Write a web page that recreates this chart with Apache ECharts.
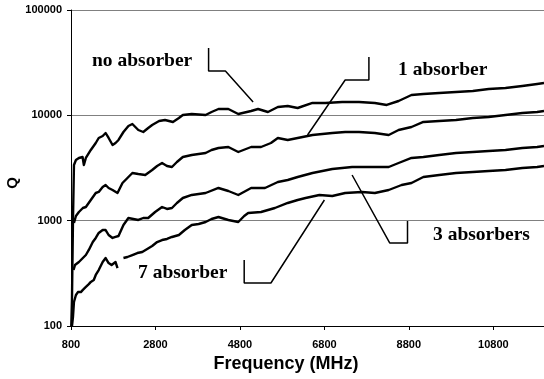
<!DOCTYPE html>
<html><head><meta charset="utf-8">
<script src="https://cdn.jsdelivr.net/npm/echarts@6/dist/echarts.min.js"></script>
<style>html,body{margin:0;padding:0;background:#fff}#c{width:544px;height:379px}</style>
</head><body><div id="c"></div>
<script>
const xTicks = [800, 2800, 4800, 6800, 8800, 10800];
const yTicks = [100, 1000, 10000, 100000];
const labels = ['no absorber', '1 absorber', '3 absorbers', '7 absorber'];

const noAbsorber = [[807,100],[823,177],[847,1015],[870,3377],[917,3767],[987,3936],[1074,4023],[1105,3377],[1152,3936],[1269,4688],[1386,5463],[1456,6094],[1550,6368],[1620,6797],[1691,6094],[1784,5229],[1855,5463],[1925,5833],[2042,6947],[2159,7922],[2253,8277],[2394,7257],[2511,6947],[2628,7582],[2722,8095],[2886,8838],[3026,9033],[3214,8648],[3355,9436],[3448,10070],[3659,10300],[3987,10070],[4128,10760],[4292,11490],[4526,11490],[4667,10760],[4761,10300],[5065,11000],[5229,11490],[5464,10760],[5698,12000],[5932,12270],[6167,11740],[6518,13100],[6823,13100],[7221,13390],[7620,13390],[7995,13100],[8276,12540],[8557,13680],[8862,15600],[9143,15940],[9518,16300],[9916,16660],[10315,17030],[10690,17790],[11088,18180],[11486,18990],[11838,19840],[12000,20280]];

const oneAbsorber = [[870,950],[917,1108],[987,1209],[1081,1319],[1152,1348],[1269,1571],[1386,1831],[1456,1872],[1550,2088],[1620,2181],[1691,2043],[1784,1955],[1901,1831],[2019,2279],[2136,2542],[2253,2836],[2394,2774],[2558,2714],[2722,3028],[2839,3304],[2956,3528],[3073,3304],[3190,3232],[3308,3606],[3448,4023],[3659,4203],[3987,4390],[4128,4688],[4292,4897],[4526,5005],[4761,4487],[5065,5005],[5300,5005],[5534,5463],[5698,6094],[5932,5833],[6167,6094],[6518,6510],[6987,6797],[7292,6947],[7620,6947],[7995,6797],[8323,6510],[8557,7257],[8862,7750],[9143,8648],[9518,8838],[9916,9033],[10315,9436],[10690,9643],[11088,10070],[11486,10520],[11838,10760],[12000,11000]];

const threeAbsorbers = [[860,340],[894,379],[987,405],[1081,442],[1152,472],[1222,527],[1316,627],[1386,685],[1456,764],[1550,815],[1620,815],[1691,731],[1784,685],[1855,700],[1925,715],[2042,910],[2159,1060],[2276,1037],[2394,1015],[2511,1060],[2628,1060],[2792,1209],[2956,1348],[3073,1291],[3190,1319],[3308,1472],[3448,1641],[3659,1753],[3987,1831],[4292,2043],[4526,1913],[4761,1753],[5065,2043],[5393,2043],[5698,2329],[5932,2433],[6167,2598],[6518,2836],[6987,3095],[7456,3232],[7924,3232],[8323,3232],[8557,3528],[8862,3936],[9143,4023],[9518,4203],[9916,4390],[10315,4487],[10690,4586],[11088,4688],[11486,4897],[11838,5005],[12000,5117]];

const sevenAbsorbers = [[823,100],[847,122],[870,169],[917,197],[964,210],[1034,210],[1081,220],[1152,235],[1222,250],[1269,262],[1339,273],[1386,305],[1456,340],[1550,405],[1620,442],[1691,396],[1761,379],[1808,363],[1855,405],[1901,355],[1970,null],[2042,442],[2136,452],[2253,472],[2370,493],[2487,504],[2605,538],[2722,575],[2839,627],[2956,655],[3073,670],[3190,700],[3355,731],[3495,815],[3659,910],[3823,930],[3987,971],[4128,1037],[4292,1083],[4526,1015],[4761,971],[4901,1108],[4995,1183],[5300,1209],[5628,1319],[5932,1472],[6167,1571],[6354,1641],[6682,1753],[6987,1715],[7292,1831],[7690,1872],[7995,1831],[8323,1955],[8628,2181],[8862,2279],[9143,2598],[9518,2714],[9916,2836],[10315,2899],[10690,2963],[11088,3028],[11486,3162],[11838,3232],[12000,3304]];

// callout leader lines (data coordinates)
const callNo = [[4058,43550],[4058,26370],[4456,26370],[5112,13390]];
const callOne = [[7854,35810],[7854,21650],[7292,21650],[6401,6508]];
const callThree = [[7456,2714],[8346,614],[8768,614],[8768,993]];
const callSeven = [[4901,423],[4901,256],[5534,256],[6800,1571]];

const chart = echarts.init(document.getElementById('c'), null, {renderer: 'canvas'});
const curve = (name, data) => ({
  name, type: 'line', data, showSymbol: false, symbol: 'none', sampling: 'none',
  connectNulls: false, silent: true, animation: false, z: 3,
  lineStyle: {color: '#000', width: 2.4, join: 'round'}
});
const leader = (data) => ({
  type: 'line', data, showSymbol: false, symbol: 'none', silent: true, animation: false, z: 4,
  lineStyle: {color: '#000', width: 1.5}
});
const sans = '"Liberation Sans", Arial, sans-serif';
const serif = '"Liberation Serif", "Times New Roman", serif';
const labelText = (text, x, y) => ({
  type: 'text', x, y, z: 100, silent: true,
  style: {text, font: 'bold 19.5px ' + serif, fill: '#000', textAlign: 'left', textVerticalAlign: 'middle'}
});
chart.setOption({
  animation: false,
  backgroundColor: '#fff',
  grid: {left: 71, right: -5, top: 10, bottom: 53, containLabel: false},
  xAxis: {
    type: 'value', min: 800, max: 12000, interval: 2000,
    axisLine: {show: true, lineStyle: {color: '#000', width: 1}},
    axisTick: {show: true, inside: false, length: 4, lineStyle: {color: '#000'}},
    splitLine: {show: false},
    axisLabel: {
      show: true, margin: 13, color: '#000', fontFamily: sans, fontWeight: 'bold', fontSize: 11,
      showMaxLabel: false,
      formatter: v => xTicks.indexOf(v) >= 0 ? String(v) : ''
    }
  },
  yAxis: {
    type: 'log', logBase: 10, min: yTicks[0], max: yTicks[yTicks.length - 1],
    axisLine: {show: true, lineStyle: {color: '#000', width: 1}},
    axisTick: {show: true, inside: false, length: 4, lineStyle: {color: '#000'}},
    minorTick: {show: false},
    splitLine: {show: true, lineStyle: {color: '#808080', width: 1}},
    axisLabel: {
      show: true, margin: 9, color: '#000', fontFamily: sans, fontWeight: 'bold', fontSize: 11,
      formatter: v => String(Math.round(v))
    }
  },
  series: [
    curve(labels[0], noAbsorber),
    curve(labels[1], oneAbsorber),
    curve(labels[2], threeAbsorbers),
    curve(labels[3], sevenAbsorbers),
    leader(callNo), leader(callOne), leader(callThree), leader(callSeven)
  ],
  graphic: [
    {type: 'rect', z: 90, silent: true, shape: {x: 426, y: 224, width: 113, height: 22}, style: {fill: '#fff'}},
    labelText(labels[0], 92, 61.4),
    labelText(labels[1], 398, 70.4),
    labelText(labels[2], 433, 235.4),
    labelText(labels[3], 138, 273.4),
    {type: 'text', x: 286, y: 364, z: 100, silent: true,
     style: {text: 'Frequency (MHz)', font: 'bold 18px ' + sans, fill: '#000', textAlign: 'center', textVerticalAlign: 'middle'}},
    {type: 'text', x: 13, y: 183, z: 100, rotation: Math.PI / 2, silent: true,
     style: {text: 'Q', font: 'bold 15px ' + sans, fill: '#000', textAlign: 'center', textVerticalAlign: 'middle'}}
  ]
});
</script></body></html>
